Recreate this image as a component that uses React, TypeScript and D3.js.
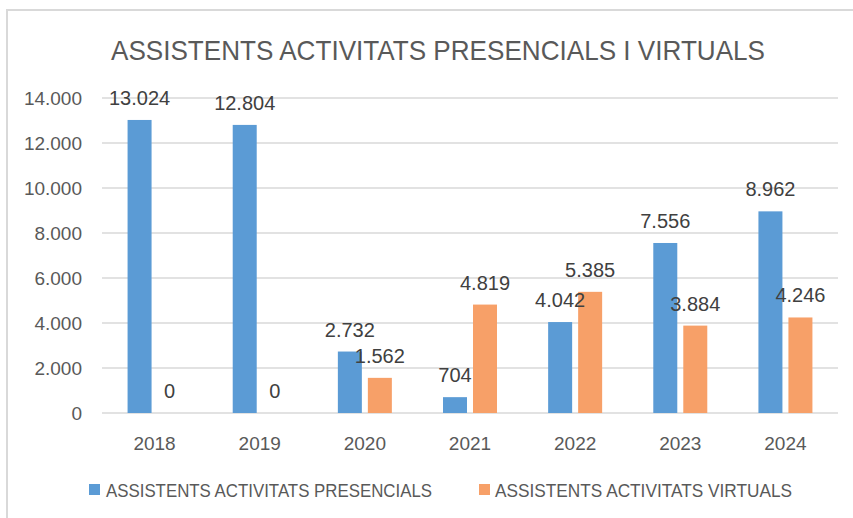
import React from "react";
import * as d3 from "d3";

const years = ["2018", "2019", "2020", "2021", "2022", "2023", "2024"];
const presencials = [13024, 12804, 2732, 704, 4042, 7556, 8962];
const virtuals = [0, 0, 1562, 4819, 5385, 3884, 4246];
const seriesNames = ["ASSISTENTS ACTIVITATS PRESENCIALS", "ASSISTENTS ACTIVITATS VIRTUALS"];
const seriesColors = ["#5B9BD5", "#F7A068"];
const yTicks = [0, 2000, 4000, 6000, 8000, 10000, 12000, 14000];
const title = "ASSISTENTS ACTIVITATS PRESENCIALS I VIRTUALS";

const W = 853;
const H = 518;
const FONT = "'Liberation Sans', Arial, sans-serif";

const locale = d3.formatLocale({ decimal: ",", thousands: ".", grouping: [3], currency: ["", "€"] });
const fmt = locale.format(",d");

export default function App() {
  const x = d3.scaleBand<string>().domain(years).range([102, 838]).paddingInner(0).paddingOuter(0);
  const inner = d3.scaleBand<number>().domain([0, 1]).range([-27, 27]).paddingInner(0.2).paddingOuter(0);
  const y = d3.scaleLinear().domain([0, 14000]).range([413, 98]);
  const series = [presencials, virtuals];
  const bw = inner.bandwidth();
  const barX = (si: number, i: number) =>
    (x(years[i]) as number) + x.bandwidth() / 2 + (inner(si) as number);

  return (
    <svg width={W} height={H} style={{ position: "absolute", left: 0, top: 0 }} fontFamily={FONT}>
      <rect x={0} y={0} width={W} height={H} fill="#ffffff" />
      <rect x={7} y={10} width={W + 20} height={H + 20} fill="none" stroke="#D9D9D9" strokeWidth={2} />
      <text x={111} y={60} fontSize={28} fill="#595959" textLength={654} lengthAdjust="spacingAndGlyphs">
        {title}
      </text>
      {yTicks.map((t) => (
        <g key={t}>
          <line x1={102} x2={838} y1={y(t)} y2={y(t)} stroke="#D9D9D9" strokeWidth={1.5} />
          <text x={82} y={y(t)} dy="0.35em" textAnchor="end" fontSize={19} fill="#595959">
            {fmt(t)}
          </text>
        </g>
      ))}
      {years.map((yr) => (
        <text key={yr} x={(x(yr) as number) + x.bandwidth() / 2} y={450} textAnchor="middle" fontSize={19} fill="#595959">
          {yr}
        </text>
      ))}
      {series.map((vals, si) =>
        vals.map((v, i) =>
          v > 0 ? (
            <rect key={`b${si}-${i}`} x={barX(si, i)} y={y(v)} width={bw} height={y(0) - y(v)} fill={seriesColors[si]} />
          ) : null
        )
      )}
      {series.map((vals, si) =>
        vals.map((v, i) => (
          <text key={`l${si}-${i}`} x={barX(si, i) + bw / 2} y={y(v) - 15} textAnchor="middle" fontSize={20} fill="#404040">
            {fmt(v)}
          </text>
        ))
      )}
      <g>
        <rect x={89} y={484} width={11} height={11} fill={seriesColors[0]} />
        <text x={106} y={497} fontSize={18} fill="#595959" textLength={326} lengthAdjust="spacingAndGlyphs">
          {seriesNames[0]}
        </text>
        <rect x={479} y={484} width={11} height={11} fill={seriesColors[1]} />
        <text x={495} y={497} fontSize={18} fill="#595959" textLength={297} lengthAdjust="spacingAndGlyphs">
          {seriesNames[1]}
        </text>
      </g>
    </svg>
  );
}
